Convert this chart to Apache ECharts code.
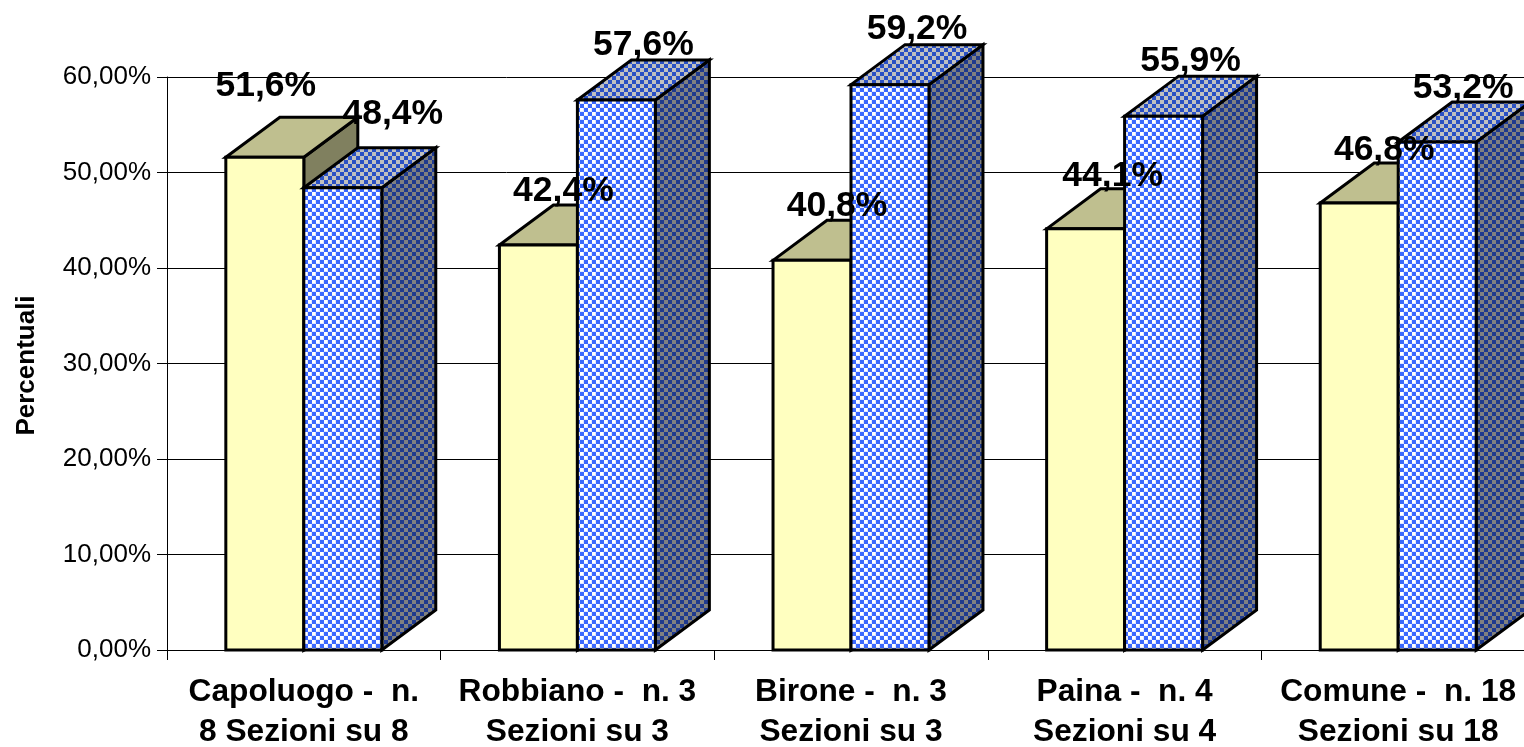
<!DOCTYPE html>
<html>
<head>
<meta charset="utf-8">
<title>Percentuali</title>
<script src="https://cdn.jsdelivr.net/npm/echarts@6/dist/echarts.min.js"></script>
<style>
html, body { margin: 0; padding: 0; background: #fff; }
#main { width: 1524px; height: 747px; }
</style>
</head>
<body>
<div id="main"></div>
<script>
// dati
const categories = [
  "Capoluogo -  n.\n8 Sezioni su 8",
  "Robbiano -  n. 3\nSezioni su 3",
  "Birone -  n. 3\nSezioni su 3",
  "Paina -  n. 4\nSezioni su 4",
  "Comune -  n. 18\nSezioni su 18"
];
const yellowValues = [51.6, 42.4, 40.8, 44.1, 46.8];
const blueValues = [48.4, 57.6, 59.2, 55.9, 53.2];

// spostamento delle etichette rispetto al centro della barra [dx, dy]
const yellowLabelShift = [[1, -71], [25, -54], [25, -54], [27, -53], [25, -53]];
const blueLabelShift = [[50, -74], [27, -55], [27, -55], [27, -55], [26, -54]];

const depthX = 54;
const depthY = 40;
const barRatio = 0.285;

function checker(a, b) {
  const c = document.createElement("canvas");
  c.width = 8;
  c.height = 8;
  const g = c.getContext("2d");
  g.fillStyle = a;
  g.fillRect(0, 0, 8, 8);
  g.fillStyle = b;
  g.fillRect(0, 0, 4, 4);
  g.fillRect(4, 4, 4, 4);
  return { image: c, repeat: "repeat" };
}

function frontChecker() {
  const c = document.createElement("canvas");
  c.width = 8;
  c.height = 8;
  const g = c.getContext("2d");
  g.fillStyle = "#3a68ff";
  g.fillRect(0, 0, 8, 8);
  g.fillStyle = "#dfe7ff";
  g.fillRect(0, 0, 4, 4);
  g.fillRect(4, 4, 4, 4);
  g.fillStyle = "#ffffff";
  g.fillRect(0, 0, 3, 3);
  g.fillRect(4, 4, 3, 3);
  return { image: c, repeat: "repeat" };
}

const yellowFaces = { front: "#ffffc0", top: "#bfbf8f", side: "#80805f" };
const blueFaces = {
  front: frontChecker(),
  top: checker("#c0c0c0", "#2a50c4"),
  side: checker("#808080", "#1f3a8e")
};

// barra 3d: fronte, tetto e fianco, side 0 = sinistra, 1 = destra
function bar3d(faces, side) {
  return function (params, api) {
    const idx = api.value(0);
    const top = api.coord([idx, api.value(1)]);
    const base = api.coord([idx, 0]);
    const w = api.size([1, 0])[0] * barRatio;
    const x0 = top[0] - w + side * w;
    const x1 = x0 + w;
    const edge = { stroke: "#000", lineWidth: 3, lineJoin: "miter" };
    return {
      type: "group",
      children: [
        {
          type: "polygon",
          shape: { points: [[x1, top[1]], [x1 + depthX, top[1] - depthY], [x1 + depthX, base[1] - depthY], [x1, base[1]]] },
          style: Object.assign({ fill: faces.side }, edge)
        },
        {
          type: "polygon",
          shape: { points: [[x0, top[1]], [x0 + depthX, top[1] - depthY], [x1 + depthX, top[1] - depthY], [x1, top[1]]] },
          style: Object.assign({ fill: faces.top }, edge)
        },
        {
          type: "rect",
          shape: { x: x0, y: top[1], width: w, height: base[1] - top[1] },
          style: Object.assign({ fill: faces.front }, edge)
        }
      ]
    };
  };
}

function barLabel(shift, side) {
  return function (params, api) {
    const idx = api.value(0);
    const val = api.value(1);
    const top = api.coord([idx, val]);
    const w = api.size([1, 0])[0] * barRatio;
    const cx = top[0] - w / 2 + side * w;
    return {
      type: "text",
      style: {
        text: val.toFixed(1).replace(".", ",") + "%",
        x: cx + shift[idx][0],
        y: top[1] + shift[idx][1],
        textAlign: "center",
        textVerticalAlign: "middle",
        fill: "#000",
        font: "bold 35.5px 'Liberation Sans', Arial, sans-serif"
      }
    };
  };
}

function rows(values) {
  return values.map(function (v, i) { return [i, v]; });
}

const chart = echarts.init(document.getElementById("main"));
chart.setOption({
  animation: false,
  backgroundColor: "#fff",
  grid: { left: 167, top: 77, width: 1368, height: 573, outerBoundsMode: "none" },
  xAxis: {
    type: "category",
    data: categories,
    axisLine: { lineStyle: { color: "#000", width: 1 } },
    axisTick: { show: true, length: 10, lineStyle: { color: "#000" } },
    axisLabel: {
      interval: 0,
      margin: 22,
      color: "#000",
      fontFamily: "Liberation Sans",
      fontWeight: "bold",
      fontSize: 31.7,
      lineHeight: 40
    }
  },
  yAxis: {
    type: "value",
    min: 0,
    max: 60,
    interval: 10,
    name: "Percentuali",
    nameLocation: "middle",
    nameGap: 127,
    nameRotate: 90,
    nameTextStyle: {
      color: "#000",
      fontFamily: "Liberation Sans",
      fontWeight: "bold",
      fontSize: 26,
      padding: [0, 4, 0, 0]
    },
    axisLine: { show: true, lineStyle: { color: "#000", width: 1 } },
    axisTick: { show: true, length: 10, lineStyle: { color: "#000" } },
    axisLabel: {
      margin: 16,
      padding: [6, 0, 0, 0],
      color: "#000",
      fontFamily: "Liberation Sans",
      fontSize: 26,
      formatter: function (v) { return v.toFixed(2).replace(".", ",") + "%"; }
    },
    splitLine: { show: true, lineStyle: { color: "#000", width: 1 } }
  },
  series: [
    { type: "custom", z: 2, silent: true, data: rows(yellowValues), encode: { x: 0, y: 1 }, renderItem: bar3d(yellowFaces, 0) },
    { type: "custom", z: 3, silent: true, data: rows(blueValues), encode: { x: 0, y: 1 }, renderItem: bar3d(blueFaces, 1) },
    { type: "custom", z: 5, silent: true, data: rows(yellowValues), encode: { x: 0, y: 1 }, renderItem: barLabel(yellowLabelShift, 0) },
    { type: "custom", z: 5, silent: true, data: rows(blueValues), encode: { x: 0, y: 1 }, renderItem: barLabel(blueLabelShift, 1) }
  ]
});
</script>
</body>
</html>
